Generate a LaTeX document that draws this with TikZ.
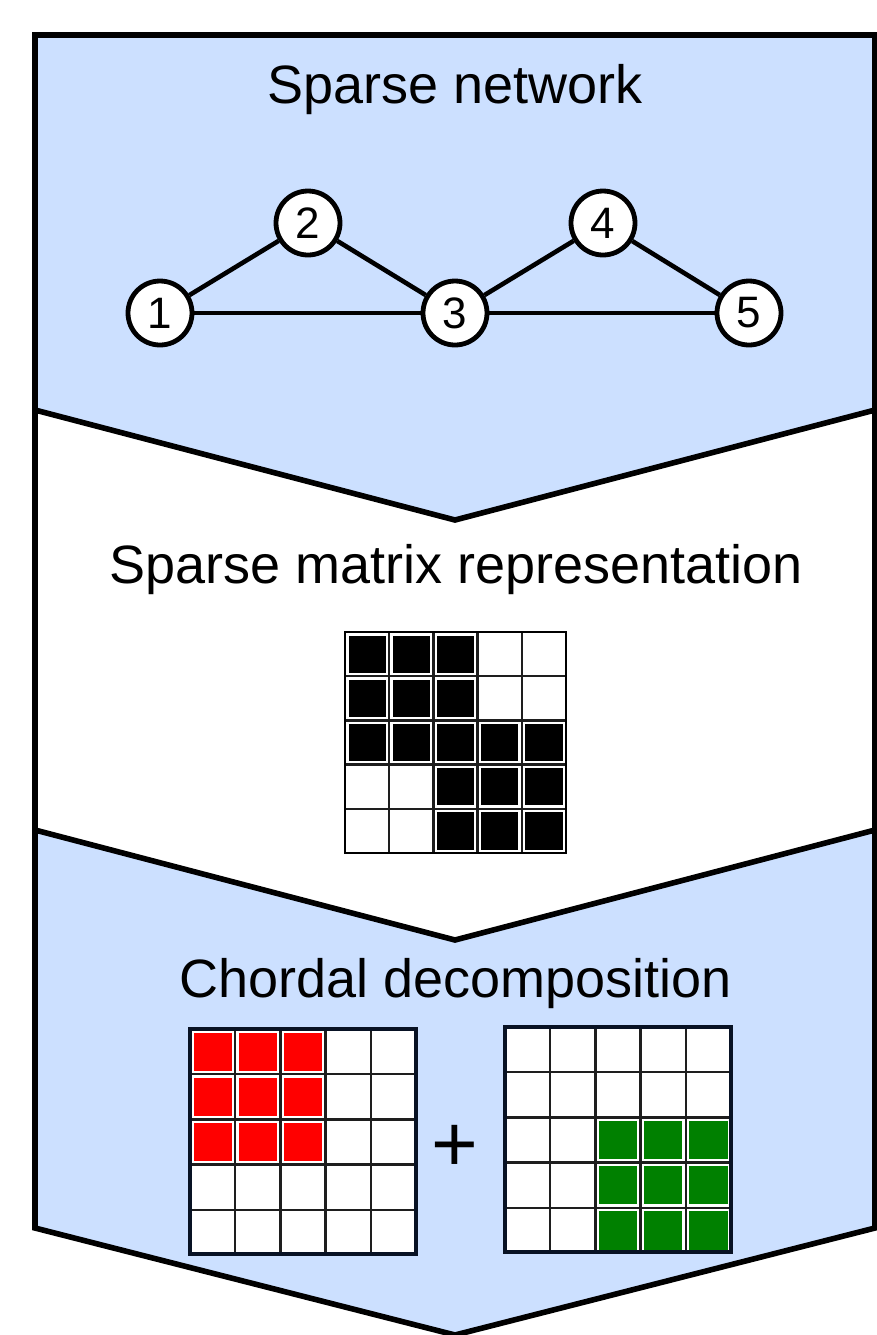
\documentclass[tikz,border=0pt]{standalone}
\usepackage{fontspec}
\setmainfont{Liberation Sans}
\definecolor{panelblue}{RGB}{204,224,255}
\definecolor{framedark}{RGB}{8,18,36}
\definecolor{cellred}{RGB}{255,0,0}
\definecolor{cellgreen}{RGB}{0,128,0}
\definecolor{gridgray}{RGB}{30,30,30}
\tikzset{
  frame/.style={draw=black, line width=2.8pt, line join=miter},
  title/.style={anchor=base, inner sep=0pt, font=\fontsize{27}{32}\selectfont},
  vertex/.style={circle, draw=black, fill=white, line width=2.4pt,
                 minimum size=32pt, inner sep=0pt, font=\fontsize{22}{24}\selectfont},
  edge/.style={draw=black, line width=2.3pt},
  gridline/.style={draw=gridgray, line width=1.2pt},
  thinborder/.style={draw=black, line width=1.4pt},
  thickborder/.style={draw=framedark, line width=2.3pt},
}
\begin{document}
\begin{tikzpicture}[x=0.5pt, y=-0.5pt]
\useasboundingbox (0,0) rectangle (877,1335);

% panel backgrounds
\fill[panelblue] (35,35) -- (875,35) -- (875,410) -- (455,520) -- (35,410) -- cycle;
\fill[white] (35,410) -- (455,520) -- (875,410) -- (875,830) -- (455,940) -- (35,830) -- cycle;
\fill[panelblue] (35,830) -- (455,940) -- (875,830) -- (875,1228) -- (455,1335) -- (35,1228) -- cycle;

% outline and chevron separators
\draw[frame] (35,35) -- (875,35) -- (875,1228) -- (455,1335) -- (35,1228) -- cycle;
\draw[frame] (35,410) -- (455,520) -- (875,410);
\draw[frame] (35,830) -- (455,940) -- (875,830);

% panel titles
\node[title] (tnet) at (455,103) {Sparse network};
\node[title] (tmat) at (456,583) {Sparse matrix representation};
\node[title] (tdec) at (456,997) {Chordal decomposition};

% sparse network
\node[vertex] (n1) at (160,313) {1};
\node[vertex] (n2) at (308,223) {2};
\node[vertex] (n3) at (455,313) {3};
\node[vertex] (n4) at (603,223) {4};
\node[vertex] (n5) at (749,313) {5};
\draw[edge] (n1) -- (n2);
\draw[edge] (n2) -- (n3);
\draw[edge] (n1) -- (n3);
\draw[edge] (n3) -- (n4);
\draw[edge] (n4) -- (n5);
\draw[edge] (n3) -- (n5);

% sparsity pattern
\foreach \i/\j in {0/0,1/0,2/0,0/1,1/1,2/1,0/2,1/2,2/2,3/2,4/2,2/3,3/3,4/3,2/4,3/4,4/4}
  \fill[black] ({345+\i*44.2+3.5},{632+\j*44.2+3.5}) rectangle ++(37.2,37.2);
\foreach \k in {1,...,4} {
  \draw[gridline] ({345+\k*44.2},632) -- ({345+\k*44.2},853);
  \draw[gridline] (345,{632+\k*44.2}) -- (566,{632+\k*44.2});
}
\draw[thinborder] (345,632) rectangle (566,853);

% first clique block
\fill[white] (190,1029) rectangle (416,1254);
\foreach \i in {0,1,2} \foreach \j in {0,1,2}
  \fill[cellred] ({190+\i*45.2+3.5},{1029+\j*45.2+3.5}) rectangle ++(38.2,38.2);
\foreach \k in {1,...,4} {
  \draw[gridline] ({190+\k*45.2},1029) -- ({190+\k*45.2},1254);
  \draw[gridline] (190,{1029+\k*45.2}) -- (416,{1029+\k*45.2});
}
\draw[thickborder] (190,1029) rectangle (416,1254);

% plus sign
\node[anchor=base, inner sep=0pt, font=\fontsize{40}{40}\selectfont] (plus) at (455,1171) {+};

% second clique block
\fill[white] (505,1027) rectangle (731,1252);
\foreach \i in {2,3,4} \foreach \j in {2,3,4}
  \fill[cellgreen] ({505+\i*45.2+3.5},{1027+\j*45.2+3.5}) rectangle ++(38.2,38.2);
\foreach \k in {1,...,4} {
  \draw[gridline] ({505+\k*45.2},1027) -- ({505+\k*45.2},1252);
  \draw[gridline] (505,{1027+\k*45.2}) -- (731,{1027+\k*45.2});
}
\draw[thickborder] (505,1027) rectangle (731,1252);
\end{tikzpicture}
\end{document}
